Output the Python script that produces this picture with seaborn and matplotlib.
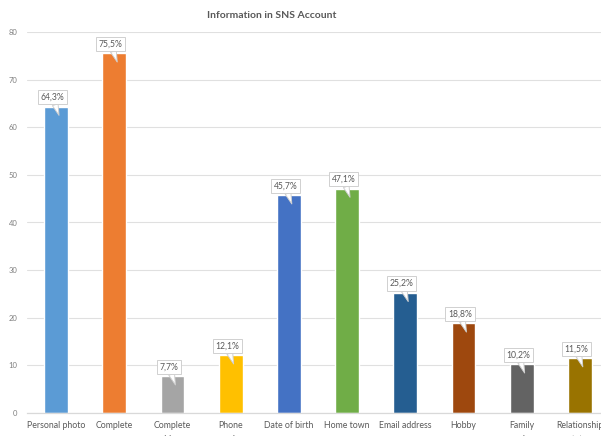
import matplotlib
matplotlib.use("Agg")
import matplotlib.pyplot as plt
import seaborn as sns
import pandas as pd

categories = ["Personal photo", "Complete\nname", "Complete\naddress", "Phone\nnumber",
              "Date of birth", "Home town", "Email address", "Hobby",
              "Family\nmembers", "Relationship\nstatus"]
values = [64.3, 75.5, 7.7, 12.1, 45.7, 47.1, 25.2, 18.8, 10.2, 11.5]
colors = ["#5B9BD5", "#ED7D31", "#A5A5A5", "#FFC000", "#4472C4",
          "#70AD47", "#255E91", "#9E480E", "#636363", "#997300"]
yticks = [0, 10, 20, 30, 40, 50, 60, 70, 80]
title = "Information in SNS Account"

sns.set_theme(style="white")
plt.rcParams['font.family'] = ['Lato', 'DejaVu Sans']

df = pd.DataFrame({"cat": categories, "val": values})

fig = plt.figure(figsize=(6.01, 4.36), dpi=100)
W, H = 601, 436
ax = fig.add_axes([27 / W, 23 / H, 582 / W, 381 / H])

sns.barplot(data=df, x="cat", y="val", hue="cat", palette=colors,
            width=0.41, legend=False, ax=ax, saturation=1)

ax.set_ylim(0, 80)
ax.set_xlim(-0.5, len(categories) - 0.5)
ax.set_yticks(yticks)
ax.set_yticklabels([str(t) for t in yticks])
ax.yaxis.grid(True, color="#E0E0E0", linewidth=0.8)
ax.set_axisbelow(True)
for s in ["top", "right", "left"]:
    ax.spines[s].set_visible(False)
ax.spines["bottom"].set_color("#D9D9D9")
ax.spines["bottom"].set_linewidth(0.9)
ax.tick_params(axis="y", length=0, pad=7, labelsize=5.5, labelcolor="#7F7F7F")
ax.tick_params(axis="x", length=0, pad=5.5, labelsize=6.3, labelcolor="#595959")
for lbl in ax.get_xticklabels():
    lbl.set_linespacing(1.75)
ax.set_xlabel("")
ax.set_ylabel("")

for i, v in enumerate(values):
    ax.annotate(f"{v:.1f}%".replace(".", ","),
                xy=(i + 0.05, v - 1.8), xycoords="data",
                xytext=(i - 0.06, v + 2.0), textcoords="data",
                ha="center", va="center", fontsize=6.2, color="#595959",
                bbox=dict(boxstyle="square,pad=0.3", fc="white", ec="#D0D0D0", lw=0.7),
                arrowprops=dict(arrowstyle="wedge,tail_width=0.7,shrink_factor=0.5",
                                fc="white", ec="#D0D0D0", lw=0.7,
                                shrinkA=0, shrinkB=0),
                zorder=5)

fig.text(272 / W, 1 - 15 / H, title, ha="center", va="center",
         fontsize=7.5, fontweight="bold", color="#595959")

fig.savefig("out.png", dpi=100)
